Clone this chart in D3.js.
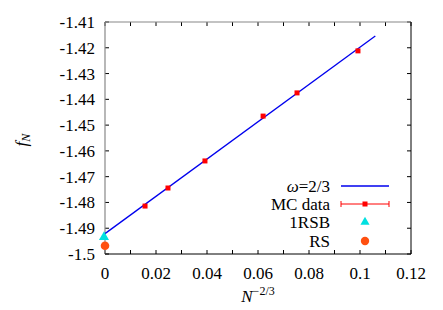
<!DOCTYPE html>
<html>
<head>
<meta charset="UTF-8">
<script src="https://d3js.org/d3.v7.min.js"></script>
<style>
  body { margin: 0; background: #fff; }
  text { font-family: "Liberation Serif", "DejaVu Serif", serif; font-size: 17px; fill: #000; }
</style>
</head>
<body>
<svg width="443" height="310"></svg>
<script>
// MC data: N^{-2/3}, f_N, error
const mcX = [0.0157, 0.0247, 0.0392, 0.0620, 0.0753, 0.0992];
const mcY = [-1.4814, -1.4744, -1.4639, -1.4465, -1.4375, -1.4212];
const mcErr = [0.0006, 0.0006, 0.0005, 0.0008, 0.0005, 0.0005];
// fit omega=2/3
const fitX = [0, 0.106];
const fitY = [-1.4921, -1.4154];
// extrapolated points at N -> infinity
const rsb1 = [0, -1.4934];
const rs = [0, -1.4968];
const xTicks = [0, 0.02, 0.04, 0.06, 0.08, 0.1, 0.12];
const yTicks = [-1.5, -1.49, -1.48, -1.47, -1.46, -1.45, -1.44, -1.43, -1.42, -1.41];

const svg = d3.select("svg");
const margin = {left: 105, right: 32, top: 22, bottom: 56};
const W = 443, H = 310;
const x = d3.scaleLinear().domain([0, 0.12]).range([margin.left, W - margin.right]);
const y = d3.scaleLinear().domain([-1.5, -1.41]).range([H - margin.bottom, margin.top]);

// ticks every 0.01 on x (labels only on 0.02)
const xMinor = d3.range(0, 0.1201, 0.01);
const tl = 4;
const g = svg.append("g");
xMinor.forEach(v => {
  g.append("line").attr("x1", x(v)).attr("x2", x(v)).attr("y1", y(-1.5)).attr("y2", y(-1.5) - tl).attr("stroke", "#000");
  g.append("line").attr("x1", x(v)).attr("x2", x(v)).attr("y1", y(-1.41)).attr("y2", y(-1.41) + tl).attr("stroke", "#000");
});
yTicks.forEach(v => {
  g.append("line").attr("x1", x(0)).attr("x2", x(0) + tl).attr("y1", y(v)).attr("y2", y(v)).attr("stroke", "#000");
  g.append("line").attr("x1", x(0.12)).attr("x2", x(0.12) - tl).attr("y1", y(v)).attr("y2", y(v)).attr("stroke", "#000");
});

// border
g.append("line").attr("x1", x(0)).attr("x2", x(0)).attr("y1", y(-1.5)).attr("y2", y(-1.41)).attr("stroke", "#888").attr("stroke-width", 1.2);
g.append("line").attr("x1", x(0)).attr("x2", x(0.12)).attr("y1", y(-1.41)).attr("y2", y(-1.41)).attr("stroke", "#888").attr("stroke-width", 1.2);
g.append("line").attr("x1", x(0)).attr("x2", x(0.12)).attr("y1", y(-1.5)).attr("y2", y(-1.5)).attr("stroke", "#000");
g.append("line").attr("x1", x(0.12)).attr("x2", x(0.12)).attr("y1", y(-1.5)).attr("y2", y(-1.41)).attr("stroke", "#000");

// tick labels
svg.selectAll(".xl").data(xTicks).enter().append("text")
  .attr("x", d => x(d)).attr("y", y(-1.5) + 25)
  .attr("text-anchor", "middle").text(d => +d.toFixed(2));
svg.selectAll(".yl").data(yTicks).enter().append("text")
  .attr("x", x(0) - 10).attr("y", d => y(d) + 6)
  .attr("text-anchor", "end").text(d => +d.toFixed(2));

// axis titles
const xt = svg.append("text").attr("x", 258).attr("y", 302).attr("text-anchor", "middle");
xt.append("tspan").attr("font-style", "italic").text("N");
xt.append("tspan").attr("dy", -7).style("font-size", "12px").text("−2/3");
const yt = svg.append("text").attr("transform", "translate(27,140) rotate(-90)").attr("text-anchor", "middle");
yt.append("tspan").attr("font-style", "italic").text("f");
yt.append("tspan").attr("dy", 3).attr("font-style", "italic").style("font-size", "12px").text("N");

// fit line
svg.append("line").attr("x1", x(fitX[0])).attr("y1", y(fitY[0])).attr("x2", x(fitX[1])).attr("y2", y(fitY[1]))
  .attr("stroke", "#0000ee").attr("stroke-width", 1.3);

// MC data
const mc = mcX.map((v, i) => ({x: v, y: mcY[i], e: mcErr[i]}));
svg.selectAll(".eb").data(mc).enter().append("line")
  .attr("x1", d => x(d.x)).attr("x2", d => x(d.x))
  .attr("y1", d => y(d.y - d.e)).attr("y2", d => y(d.y + d.e))
  .attr("stroke", "#f00").attr("stroke-width", 1.5);
svg.selectAll(".pt").data(mc).enter().append("rect")
  .attr("x", d => x(d.x) - 2.5).attr("y", d => y(d.y) - 2.5)
  .attr("width", 5).attr("height", 5).attr("fill", "#f00");

// 1RSB and RS
svg.append("path").attr("d", d3.symbol(d3.symbolTriangle, 44)())
  .attr("transform", `translate(${x(rsb1[0]) - 1},${y(rsb1[1])})`).attr("fill", "#00e0e0");
svg.append("circle").attr("cx", x(rs[0])).attr("cy", y(rs[1])).attr("r", 4.3).attr("fill", "#ff5010");

// legend
const lx = 330, ls = 341, le = 389, lm = 365;
const rows = [186, 204, 222, 241];
const l0 = svg.append("text").attr("x", lx).attr("y", rows[0] + 6).attr("text-anchor", "end");
l0.append("tspan").attr("font-style", "italic").text("ω");
l0.append("tspan").text("=2/3");
svg.append("line").attr("x1", ls).attr("x2", le).attr("y1", rows[0]).attr("y2", rows[0]).attr("stroke", "#0000ee").attr("stroke-width", 1.3);
svg.append("text").attr("x", lx).attr("y", rows[1] + 6).attr("text-anchor", "end").text("MC data");
svg.append("line").attr("x1", ls).attr("x2", le).attr("y1", rows[1]).attr("y2", rows[1]).attr("stroke", "#f00");
[ls, le].forEach(v => svg.append("line").attr("x1", v).attr("x2", v).attr("y1", rows[1] - 3).attr("y2", rows[1] + 3).attr("stroke", "#f00"));
svg.append("rect").attr("x", lm - 2.5).attr("y", rows[1] - 2.5).attr("width", 5).attr("height", 5).attr("fill", "#f00");
svg.append("text").attr("x", lx).attr("y", rows[2] + 6).attr("text-anchor", "end").text("1RSB");
svg.append("path").attr("d", d3.symbol(d3.symbolTriangle, 36)()).attr("transform", `translate(${lm},${rows[2]})`).attr("fill", "#00e0e0");
svg.append("text").attr("x", lx).attr("y", rows[3] + 6).attr("text-anchor", "end").text("RS");
svg.append("circle").attr("cx", lm).attr("cy", rows[3]).attr("r", 4.2).attr("fill", "#ff5010");
</script>
</body>
</html>
